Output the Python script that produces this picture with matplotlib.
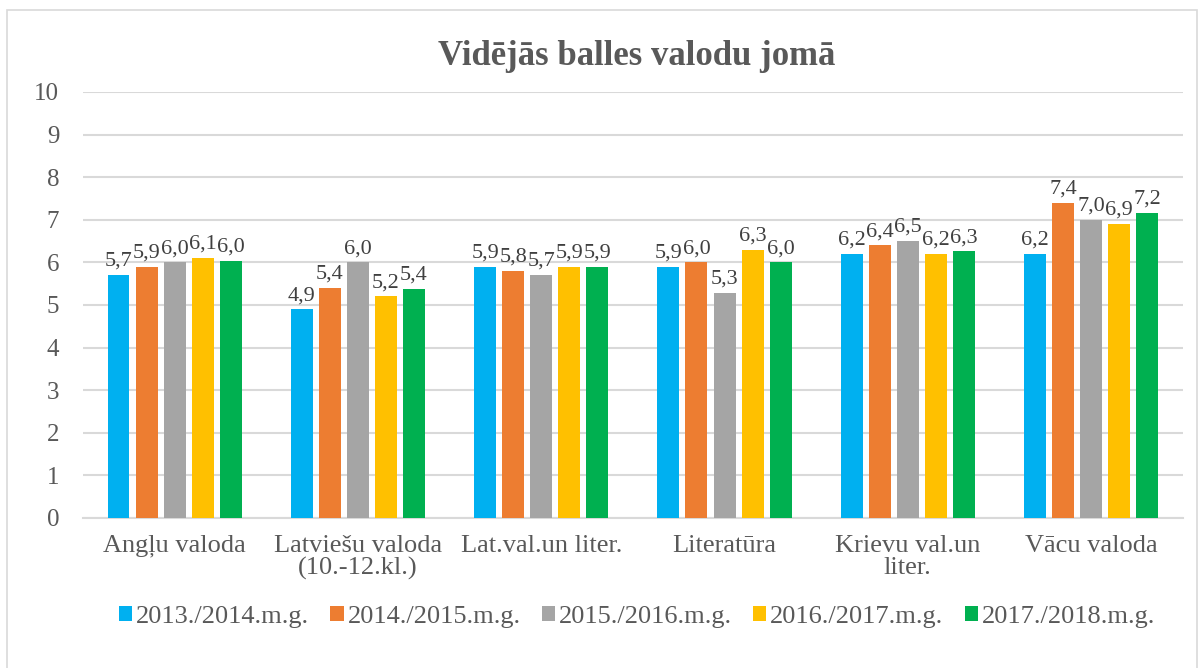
import matplotlib.pyplot as plt
import numpy as np
from matplotlib.patches import Rectangle

# data
categories = ["Angļu valoda", "Latviešu valoda\n(10.-12.kl.)", "Lat.val.un liter.",
              "Literatūra", "Krievu val.un\nliter.", "Vācu valoda"]
years = ["2013./2014.m.g.", "2014./2015.m.g.", "2015./2016.m.g.",
         "2016./2017.m.g.", "2017./2018.m.g."]
v_2013 = [5.70, 4.90, 5.90, 5.90, 6.20, 6.20]
v_2014 = [5.90, 5.40, 5.80, 6.00, 6.40, 7.40]
v_2015 = [6.00, 6.00, 5.70, 5.29, 6.50, 7.00]
v_2016 = [6.10, 5.20, 5.90, 6.30, 6.20, 6.90]
v_2017 = [6.04, 5.38, 5.90, 6.00, 6.26, 7.16]
series = [v_2013, v_2014, v_2015, v_2016, v_2017]
colors = ["#00B0F0", "#ED7D31", "#A5A5A5", "#FFC000", "#00B050"]

plt.rcParams['font.family'] = ['Liberation Serif', 'DejaVu Serif']
txt = "#595959"

fig = plt.figure(figsize=(12.02, 6.68), dpi=100)
ax = fig.add_axes([0.069, 0.2246, 0.915, 0.6377])

x = np.arange(len(categories))
slot = 0.153
w = 0.12
for i, (vals, col, lab) in enumerate(zip(series, colors, years)):
    bars = ax.bar(x + (i - 2) * slot, vals, w, color=col, label=lab, zorder=3)
    ax.bar_label(bars, labels=[f"{v:.1f}".replace(".", ",") for v in vals],
                 padding=3, fontsize=16, color="#404040")

ax.set_xlim(-0.5, 5.5)
ax.set_ylim(0, 10)
ax.set_yticks(range(0, 11))
ax.set_xticks(x)
ax.set_xticklabels(categories, fontsize=19, color=txt, linespacing=1.0)
ax.tick_params(axis='y', labelsize=18, labelcolor=txt, length=0, pad=17)
ax.tick_params(axis='x', length=0, pad=12)
ax.grid(axis='y', color="#D9D9D9", linewidth=1.5, zorder=0)
for s in ["top", "right", "left"]:
    ax.spines[s].set_visible(False)
ax.spines["bottom"].set_color("#D9D9D9")
ax.spines["bottom"].set_linewidth(1.5)

fig.text(0.53, 0.915, "Vidējās balles valodu jomā", ha="center", va="center",
         fontsize=25, fontweight="bold", color=txt)

leg = fig.legend(loc="center", bbox_to_anchor=(0.53, 0.076), ncol=5, frameon=False,
                 fontsize=19, handlelength=0.5, handleheight=0.5, handletextpad=0.15,
                 columnspacing=0.8, labelcolor=txt)

fig.patches.append(Rectangle((0.006, -0.01), 0.99, 0.995, transform=fig.transFigure,
                             fill=False, edgecolor="#D9D9D9", linewidth=1.2))

fig.savefig("out.png", dpi=100)
